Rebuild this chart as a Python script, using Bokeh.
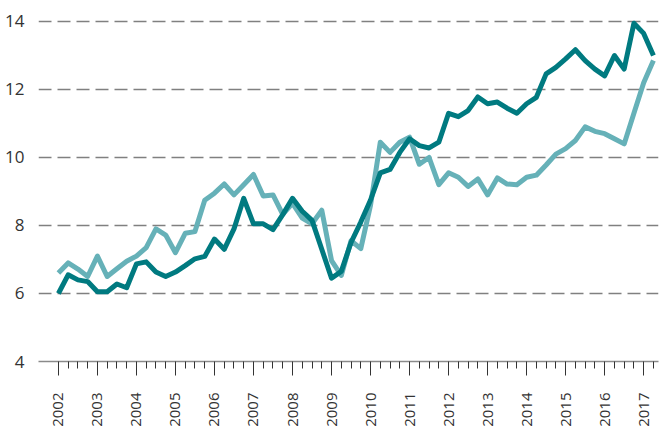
import math
from bokeh.plotting import figure
from bokeh.models import FixedTicker, Range1d
from bokeh.embed import file_html
from bokeh.resources import INLINE

# Quarterly data, 2002Q1 .. 2017Q2
start_year = 2002
dark_series = [
    6.0, 6.55, 6.4, 6.35,
    6.05, 6.05, 6.28, 6.17,
    6.87, 6.93, 6.63, 6.5,
    6.63, 6.82, 7.02, 7.09,
    7.6, 7.3, 7.9, 8.8,
    8.05, 8.05, 7.88, 8.32,
    8.8, 8.42, 8.15, 7.3,
    6.45, 6.65, 7.5, 8.1,
    8.75, 9.55, 9.65, 10.15,
    10.55, 10.35, 10.28, 10.45,
    11.3, 11.2, 11.38, 11.78,
    11.58, 11.63, 11.45, 11.3,
    11.58, 11.77, 12.46, 12.65,
    12.9, 13.17, 12.85, 12.6,
    12.4, 13.0, 12.6, 13.95,
    13.65, 13.0,
]
light_series = [
    6.6, 6.9, 6.72, 6.5,
    7.1, 6.5, 6.73, 6.95,
    7.1, 7.35, 7.9, 7.72,
    7.2, 7.77, 7.82, 8.74,
    8.95, 9.22, 8.9, 9.2,
    9.5, 8.87, 8.9, 8.33,
    8.65, 8.22, 8.05, 8.45,
    6.97, 6.53, 7.55, 7.32,
    8.6, 10.45, 10.15, 10.45,
    10.6, 9.8, 10.0, 9.2,
    9.55, 9.42, 9.15, 9.37,
    8.9, 9.4, 9.22, 9.2,
    9.42, 9.48, 9.78, 10.1,
    10.26, 10.5, 10.9, 10.77,
    10.7, 10.55, 10.4, 11.3,
    12.2, 12.85,
]
year_ticks = list(range(2002, 2018))
y_ticks = [4, 6, 8, 10, 12, 14]

quarters = [start_year + i / 4 for i in range(len(dark_series))]
minor = [y + q / 4 for y in year_ticks for q in range(1, 4)]
minor = [m for m in minor if m <= quarters[-1]]

p = figure(width=668, height=431, output_backend="svg", toolbar_location=None,
           x_range=Range1d(2001.49, 2017.38), y_range=Range1d(4, 14.235),
           min_border_left=38, min_border_right=10, min_border_top=13,
           min_border_bottom=70)
p.outline_line_color = None
p.background_fill_color = "white"
p.border_fill_color = "white"

p.line(quarters, light_series, line_color="#66B1B8", line_width=5, line_join="round")
p.line(quarters, dark_series, line_color="#007A80", line_width=5, line_join="round")

p.xgrid.grid_line_color = None
p.ygrid.grid_line_color = "#808080"
p.ygrid.grid_line_width = 1.6
p.ygrid.grid_line_dash = "13 6"

xa = p.xaxis[0]
xa.ticker = FixedTicker(ticks=year_ticks, minor_ticks=minor)
xa.axis_line_color = "#8a8a8a"
xa.axis_line_width = 1.6
xa.major_tick_line_color = "#333333"
xa.minor_tick_line_color = "#333333"
xa.major_tick_in = 0
xa.minor_tick_in = 0
xa.major_tick_out = 14
xa.minor_tick_out = 7
xa.major_label_orientation = math.pi / 2
xa.major_label_text_font = "Open Sans"
xa.major_label_text_font_size = "15px"
xa.major_label_text_color = "#333333"
xa.major_label_standoff = 17

ya = p.yaxis[0]
ya.ticker = FixedTicker(ticks=y_ticks)
ya.axis_line_color = None
ya.major_tick_line_color = None
ya.minor_tick_line_color = None
ya.major_label_text_font = "Open Sans"
ya.major_label_text_font_size = "17px"
ya.major_label_text_color = "#333333"
ya.major_label_standoff = 8

open("out.html", "w").write(file_html(p, INLINE))
